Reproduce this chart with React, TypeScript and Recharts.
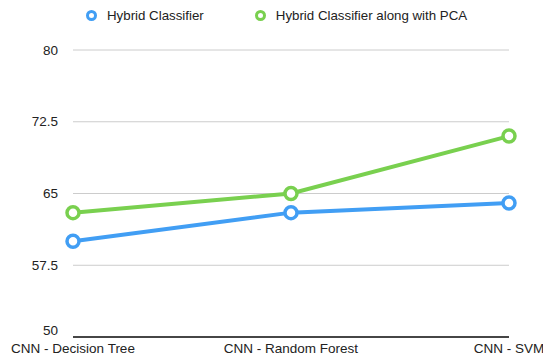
import { LineChart, Line, XAxis, YAxis, CartesianGrid, Legend } from "recharts";

const categories = ["CNN - Decision Tree", "CNN - Random Forest", "CNN - SVM"];
const hybrid = [60, 63, 64];
const hybridPca = [63, 65, 71];
const yTicks = [50, 57.5, 65, 72.5, 80];

const BLUE = "#419ef4";
const GREEN = "#79d04f";

const data = categories.map((name, i) => ({
  name,
  hybrid: hybrid[i],
  hybridPca: hybridPca[i],
}));

const seriesInfo = [
  { key: "hybrid", label: "Hybrid Classifier", color: BLUE },
  { key: "hybridPca", label: "Hybrid Classifier along with PCA", color: GREEN },
];

// fixed 20px tall so the plot offset is predictable
function LegendContent() {
  return (
    <div
      style={{
        display: "flex",
        alignItems: "center",
        height: 20,
        paddingLeft: 86,
        fontSize: 13.3,
        color: "#222",
      }}
    >
      {seriesInfo.map((s, i) => (
        <div key={s.key} style={{ display: "flex", alignItems: "center", marginRight: i === 0 ? 51 : 0 }}>
          <span
            style={{
              display: "inline-block",
              width: 5,
              height: 5,
              borderRadius: "50%",
              border: `3px solid ${s.color}`,
              marginRight: 10,
            }}
          />
          <span>{s.label}</span>
        </div>
      ))}
    </div>
  );
}

function YTick(props: any) {
  const { x, y, payload } = props;
  const shift = payload.value === 50 ? -7 : 0;
  return (
    <text x={x} y={y + shift} dy="0.35em" textAnchor="end" fill="#222" fontSize={13.5}>
      {payload.value}
    </text>
  );
}

function XTick(props: any) {
  const { x, y, payload } = props;
  return (
    <text x={x} y={y} dy="0.71em" textAnchor="middle" fill="#222" fontSize={13.5}>
      {payload.value}
    </text>
  );
}

export default function App() {
  return (
    <div
      style={{
        position: "absolute",
        left: 0,
        top: 0,
        fontFamily: "'Liberation Sans', Arial, sans-serif",
        background: "#fff",
      }}
    >
      <LineChart width={543} height={360} data={data} margin={{ top: 30, right: 34, bottom: 0, left: 0 }}>
        <CartesianGrid vertical={false} stroke="#cccccc" />
        <Legend verticalAlign="top" content={<LegendContent />} wrapperStyle={{ top: 5, left: 0, width: 543 }} />
        <XAxis
          dataKey="name"
          height={23}
          tickLine={false}
          tickSize={0}
          tickMargin={6}
          axisLine={{ stroke: "#111", strokeWidth: 1.5 }}
          tick={<XTick />}
          interval={0}
        />
        <YAxis
          domain={[50, 80]}
          ticks={yTicks}
          width={73}
          tickLine={false}
          axisLine={false}
          tickSize={0}
          tickMargin={15}
          tick={<YTick />}
        />
        {seriesInfo.map((s) => (
          <Line
            key={s.key}
            dataKey={s.key}
            stroke={s.color}
            strokeWidth={4}
            dot={{ r: 6, fill: "#fff", stroke: s.color, strokeWidth: 3.5 }}
            isAnimationActive={false}
          />
        ))}
      </LineChart>
    </div>
  );
}
